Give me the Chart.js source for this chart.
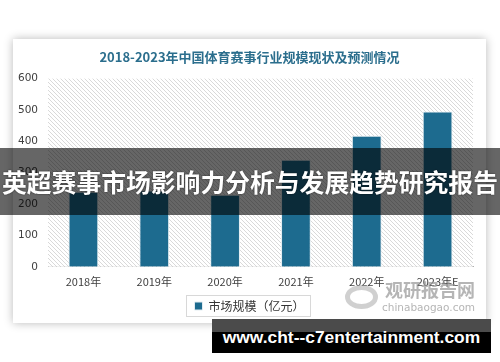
<!DOCTYPE html>
<html><head><meta charset="utf-8">
<script src="https://cdn.jsdelivr.net/npm/chart.js@4/dist/chart.umd.min.js"></script>
<style>
html,body{margin:0;padding:0;background:#fff;width:500px;height:362px;overflow:hidden;font-family:"Noto Sans CJK SC",sans-serif;}
#card{position:absolute;left:13px;top:39px;width:473px;height:284px;background:#fff;box-shadow:0 0 9px rgba(0,0,0,0.28);}
#cv{position:absolute;left:0;top:0;}
#wm{position:absolute;left:345px;top:280px;width:130px;height:34px;color:rgba(150,150,150,0.7);pointer-events:none;}
#wm .logo{position:absolute;left:0;top:5px;width:33px;height:24px;border-radius:50%;border:5px solid rgba(170,170,170,0.55);box-sizing:border-box;}
#wm .cn{position:absolute;left:40px;top:-2px;font-size:18px;font-weight:bold;white-space:nowrap;line-height:22px;}
#wm .en{position:absolute;left:37px;top:21px;font-size:10.5px;font-family:"DejaVu Sans",sans-serif;white-space:nowrap;line-height:12px;}
#banner{position:absolute;left:0;top:148px;width:500px;height:67px;background:rgba(0,0,0,0.6);color:#fff;font-weight:bold;font-size:24.8px;line-height:67px;text-align:center;white-space:nowrap;text-shadow:0 0 2px rgba(0,0,0,0.6);font-family:"Noto Sans CJK SC",sans-serif;}
#foot{position:absolute;left:212px;top:319px;width:279px;height:34px;background:linear-gradient(#4b4b4b 0,#4b4b4b 13px,#000 13px);color:#fff;font-weight:bold;font-size:17.4px;line-height:36px;text-align:center;white-space:nowrap;font-family:"Liberation Sans",Arial,sans-serif;}
</style></head>
<body>
<div id="card"><canvas id="cv" width="473" height="284"></canvas></div>
<div id="wm"><div class="logo"></div><div class="cn">观研报告网</div><div class="en">chinabaogao.com</div></div>
<div id="banner">英超赛事市场影响力分析与发展趋势研究报告</div>
<div id="foot">www.cht--c7entertainment.com</div>
<script>
const titleText = "2018-2023年中国体育赛事行业规模现状及预测情况";
const categories = ["2018年","2019年","2020年","2021年","2022年","2023年E"];
const seriesName = "市场规模（亿元）";
const marketSize = [239, 243, 230, 341, 418, 495];
const yTicks = [0,100,200,300,400,500,600];

const pc = document.createElement('canvas');
pc.width = 4; pc.height = 4;
const px = pc.getContext('2d');
px.fillStyle = '#ffffff'; px.fillRect(0,0,4,4);
px.strokeStyle = '#d9d9d9'; px.lineWidth = 1;
px.beginPath(); px.moveTo(-1,-1); px.lineTo(5,5); px.stroke();
px.beginPath(); px.moveTo(-1,3); px.lineTo(1,5); px.stroke();
px.beginPath(); px.moveTo(3,-1); px.lineTo(5,1); px.stroke();

const hatch = {
  id:'hatch',
  beforeDatasetsDraw(chart){
    const {ctx, chartArea:a} = chart;
    ctx.save();
    ctx.fillStyle = ctx.createPattern(pc,'repeat');
    ctx.fillRect(a.left, a.top, a.right-a.left, a.bottom-a.top);
    ctx.restore();
  }
};
const legendBox = {
  id:'legendBox',
  afterDraw(chart){
    const lg = chart.legend; if(!lg) return;
    const ctx = chart.ctx;
    const items = lg.legendHitBoxes;
    if(!items || !items.length) return;
    const h = items[0];
    ctx.save();
    ctx.strokeStyle = '#d8d8d8'; ctx.lineWidth = 1;
    ctx.strokeRect(Math.round(h.left-8)+0.5, Math.round(h.top-5)+0.5, Math.round(h.width+14), Math.round(h.height+9));
    ctx.restore();
  }
};

new Chart(document.getElementById('cv'), {
  type:'bar',
  data:{labels:categories, datasets:[{label:seriesName, data:marketSize, backgroundColor:'#1d6b8f', borderColor:'#e3edf2', borderWidth:1, categoryPercentage:1, barPercentage:0.42}]},
  options:{
    responsive:false, animation:false, devicePixelRatio:1,
    layout:{padding:{left:0,right:0,top:0,bottom:1}},
    plugins:{
      title:{display:true,text:titleText,color:'#2b6e8d',font:{family:'"Noto Sans CJK SC"',size:13,weight:'bold'},padding:{top:10,bottom:14}},
      legend:{position:'bottom',labels:{color:'#333',font:{family:'"Noto Sans CJK SC"',size:12},boxWidth:8,boxHeight:8,padding:4}},
      tooltip:{enabled:false}
    },
    scales:{
      x:{grid:{display:false,drawTicks:false},border:{color:'#b0b0b0'},ticks:{color:'#404040',font:{family:'"Noto Sans CJK SC"',size:11},padding:8}},
      y:{min:0,max:600,afterBuildTicks(s){s.ticks=yTicks.map(v=>({value:v}));},grid:{display:false,drawTicks:false},border:{display:false},
         ticks:{color:'#404040',font:{family:'"DejaVu Sans"',size:10.5},padding:10},
         afterFit(s){s.width=35;}},
      yr:{position:'right',min:0,max:600,grid:{display:false,drawTicks:false},border:{display:false},ticks:{display:false},
         afterFit(s){s.width=13;}}
    }
  },
  plugins:[hatch, legendBox]
});
</script>
</body></html>
